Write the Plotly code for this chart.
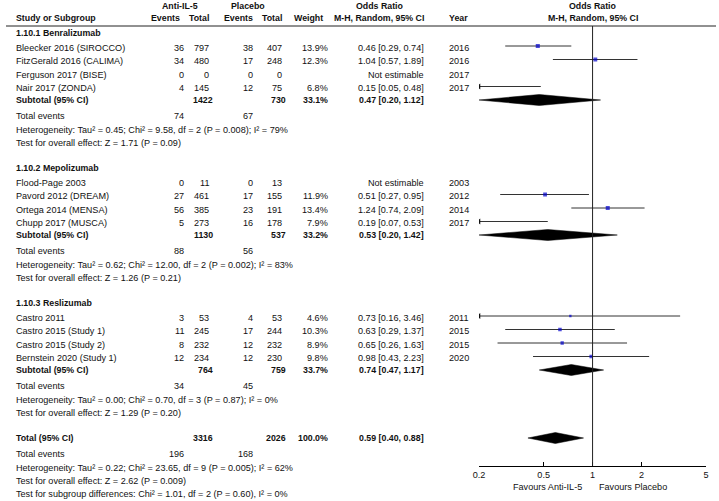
import numpy as np
import plotly.graph_objects as go

# --- data ---
groups = ["1.10.1 Benralizumab", "1.10.2 Mepolizumab", "1.10.3 Reslizumab"]
study = ["Bleecker 2016 (SIROCCO)", "FitzGerald 2016 (CALIMA)", "Ferguson 2017 (BISE)", "Nair 2017 (ZONDA)",
         "Flood-Page 2003", "Pavord 2012 (DREAM)", "Ortega 2014 (MENSA)", "Chupp 2017 (MUSCA)",
         "Castro 2011", "Castro 2015 (Study 1)", "Castro 2015 (Study 2)", "Bernstein 2020 (Study 1)"]
grp = [0, 0, 0, 0, 1, 1, 1, 1, 2, 2, 2, 2]
ev_t = [36, 34, 0, 4, 0, 27, 56, 5, 3, 11, 8, 12]
n_t = [797, 480, 0, 145, 11, 461, 385, 273, 53, 245, 232, 234]
ev_c = [38, 17, 0, 12, 0, 17, 23, 16, 4, 17, 12, 12]
n_c = [407, 248, 0, 75, 13, 155, 191, 178, 53, 244, 232, 230]
weight = [13.9, 12.3, None, 6.8, None, 11.9, 13.4, 7.9, 4.6, 10.3, 8.9, 9.8]
odds = [0.46, 1.04, None, 0.15, None, 0.51, 1.24, 0.19, 0.73, 0.63, 0.65, 0.98]
ci_lo = [0.29, 0.57, None, 0.05, None, 0.27, 0.74, 0.07, 0.16, 0.29, 0.26, 0.43]
ci_hi = [0.74, 1.89, None, 0.48, None, 0.95, 2.09, 0.53, 3.46, 1.37, 1.63, 2.23]
year = [2016, 2016, 2017, 2017, 2003, 2012, 2014, 2017, 2011, 2015, 2015, 2020]

sub_nt = [1422, 1130, 764]
sub_nc = [730, 537, 759]
sub_w = [33.1, 33.2, 33.7]
sub_or = [0.47, 0.53, 0.74]
sub_lo = [0.20, 0.20, 0.47]
sub_hi = [1.12, 1.42, 1.17]
sub_evt = [74, 88, 34]
sub_evc = [67, 56, 45]
sub_het = ["Heterogeneity: Tau² = 0.45; Chi² = 9.58, df = 2 (P = 0.008); I² = 79%",
           "Heterogeneity: Tau² = 0.62; Chi² = 12.00, df = 2 (P = 0.002); I² = 83%",
           "Heterogeneity: Tau² = 0.00; Chi² = 0.70, df = 3 (P = 0.87); I² = 0%"]
sub_z = ["Test for overall effect: Z = 1.71 (P = 0.09)",
         "Test for overall effect: Z = 1.26 (P = 0.21)",
         "Test for overall effect: Z = 1.29 (P = 0.20)"]

tot_nt, tot_nc, tot_w = 3316, 2026, 100.0
tot_or, tot_lo, tot_hi = 0.59, 0.40, 0.88
tot_evt, tot_evc = 196, 168
tot_het = "Heterogeneity: Tau² = 0.22; Chi² = 23.65, df = 9 (P = 0.005); I² = 62%"
tot_z = "Test for overall effect: Z = 2.62 (P = 0.009)"
tot_sub = "Test for subgroup differences: Chi² = 1.01, df = 2 (P = 0.60), I² = 0%"

ticks = [0.2, 0.5, 1, 2, 5]
tick_txt = ["0.2", "0.5", "1", "2", "5"]

# --- layout constants (pixels) ---
W, H = 719, 501
FONT = "Liberation Sans, Arial, sans-serif"
FS, FSB = 9.1, 8.8
X_NAME, X_EVT, X_NT, X_EVC, X_NC, X_W, X_OR, X_YR = 8, 182, 208, 252, 282, 328, 425, 447
AX_L, AX_R, AX_Y, TOP = 479, 709, 466, 26
BLUE = "#0000cc"

ann = []


def txt(x, y, s, anchor="left", bold=False):
    ann.append(dict(x=x, y=y, xref="x", yref="y", text=f"<b>{s}</b>" if bold else s,
                    showarrow=False, xanchor=anchor, yanchor="middle",
                    font=dict(family=FONT, size=FSB if bold else FS, color="#111")))


# headers
txt(176, 5.5, "Anti-IL-5", "center", True)
txt(245, 5.5, "Placebo", "center", True)
txt(379, 5.5, "Odds Ratio", "center", True)
txt(594, 5.5, "Odds Ratio", "center", True)
y2 = 18
txt(X_NAME, y2, "Study or Subgroup", bold=True)
txt(178, y2, "Events", "right", True)
txt(X_NT, y2, "Total", "right", True)
txt(X_EVC, y2, "Events", "right", True)
txt(X_NC, y2, "Total", "right", True)
txt(323, y2, "Weight", "right", True)
txt(X_OR, y2, "M-H, Random, 95% CI", "right", True)
txt(X_YR, y2, "Year", bold=True)
txt(594, y2, "M-H, Random, 95% CI", "center", True)

# row positions
study_y = [None] * len(study)
sub_y = []
y = 33
for g, name in enumerate(groups):
    txt(X_NAME, y, name, bold=True)
    y += 14.5
    for i in [k for k in range(len(study)) if grp[k] == g]:
        study_y[i] = y
        y += 13.5
    y -= 1.5
    sub_y.append(y)
    y += 16
    txt(X_NAME, y, "Total events")
    txt(X_EVT, y, str(sub_evt[g]), "right")
    txt(X_EVC, y, str(sub_evc[g]), "right")
    y += 13.5
    txt(X_NAME, y, sub_het[g])
    y += 13.5
    txt(X_NAME, y, sub_z[g])
    y += 25
tot_y = y
txt(X_NAME, tot_y, "Total (95% CI)", bold=True)
txt(X_NT + 4, tot_y, str(tot_nt), "right", True)
txt(X_NC + 4, tot_y, str(tot_nc), "right", True)
txt(X_W, tot_y, f"{tot_w:.1f}%", "right", True)
txt(X_OR, tot_y, f"{tot_or:.2f} [{tot_lo:.2f}, {tot_hi:.2f}]", "right", True)
txt(X_NAME, tot_y + 16, "Total events")
txt(X_EVT, tot_y + 16, str(tot_evt), "right")
txt(X_EVC, tot_y + 16, str(tot_evc), "right")
txt(X_NAME, tot_y + 29.5, tot_het)
txt(X_NAME, tot_y + 43, tot_z)
txt(X_NAME, tot_y + 56, tot_sub)

for i, s in enumerate(study):
    yy = study_y[i]
    txt(X_NAME, yy, s)
    txt(X_EVT, yy, str(ev_t[i]), "right")
    txt(X_NT, yy, str(n_t[i]), "right")
    txt(X_EVC, yy, str(ev_c[i]), "right")
    txt(X_NC, yy, str(n_c[i]), "right")
    if weight[i] is not None:
        txt(X_W, yy, f"{weight[i]:.1f}%", "right")
        txt(X_OR, yy, f"{odds[i]:.2f} [{ci_lo[i]:.2f}, {ci_hi[i]:.2f}]", "right")
    else:
        txt(X_OR, yy, "Not estimable", "right")
    txt(X_YR, yy, str(year[i]))

for g in range(len(groups)):
    yy = sub_y[g]
    txt(X_NAME, yy, "Subtotal (95% CI)", bold=True)
    txt(X_NT + 4, yy, str(sub_nt[g]), "right", True)
    txt(X_NC + 4, yy, str(sub_nc[g]), "right", True)
    txt(X_W, yy, f"{sub_w[g]:.1f}%", "right", True)
    txt(X_OR, yy, f"{sub_or[g]:.2f} [{sub_lo[g]:.2f}, {sub_hi[g]:.2f}]", "right", True)

txt(585, 487, "Favours Anti-IL-5", "right")
txt(598, 487, "Favours Placebo", "left")

# --- forest marks ---
fig = go.Figure()
xmin, xmax = ticks[0], ticks[-1]
lx, ly, arr_x, arr_y = [], [], [], []
sq_x, sq_y, sq_s = [], [], []
for i in range(len(study)):
    if odds[i] is None:
        continue
    yy = study_y[i] - 1.5
    lx += [max(ci_lo[i], xmin), min(ci_hi[i], xmax), None]
    ly += [yy, yy, None]
    if ci_lo[i] < xmin:
        arr_x.append(xmin)
        arr_y.append(yy)
    sq_x.append(odds[i])
    sq_y.append(yy)
    sq_s.append(1.1 * np.sqrt(weight[i]))

fig.add_trace(go.Scatter(x=lx, y=ly, mode="lines", line=dict(color="#333", width=1),
                         xaxis="x2", yaxis="y2", hoverinfo="skip"))
fig.add_trace(go.Scatter(x=arr_x, y=arr_y, mode="markers", xaxis="x2", yaxis="y2",
                         marker=dict(symbol="triangle-left", size=5, color="#111"), hoverinfo="skip"))
fig.add_trace(go.Scatter(x=sq_x, y=sq_y, mode="markers", xaxis="x2", yaxis="y2",
                         marker=dict(symbol="square", size=sq_s, color=BLUE, line=dict(width=0))))

dh = 5.5
for o, lo, hi, yy in list(zip(sub_or, sub_lo, sub_hi, sub_y)) + [(tot_or, tot_lo, tot_hi, tot_y)]:
    fig.add_trace(go.Scatter(x=[lo, o, hi, o, lo], y=[yy, yy - dh, yy, yy + dh, yy],
                             mode="lines", fill="toself", fillcolor="black",
                             line=dict(color="black", width=0.5), xaxis="x2", yaxis="y2",
                             hoverinfo="skip"))

eps = 1e-4
fig.update_layout(
    width=W, height=H, margin=dict(l=0, r=0, t=0, b=0),
    paper_bgcolor="white", plot_bgcolor="rgba(0,0,0,0)", showlegend=False,
    annotations=ann,
    xaxis=dict(range=[0, W], visible=False, domain=[0, 1]),
    yaxis=dict(range=[H, 0], visible=False, domain=[0, 1]),
    xaxis2=dict(type="log", range=[np.log10(xmin) - eps, np.log10(xmax) + eps],
                domain=[AX_L / W, AX_R / W], anchor="y2",
                showgrid=False, zeroline=False, showline=True, linecolor="black", linewidth=1,
                ticks="inside", ticklen=4, tickcolor="black",
                tickvals=ticks, ticktext=tick_txt,
                tickfont=dict(family=FONT, size=FS, color="#111")),
    yaxis2=dict(range=[AX_Y, 0], domain=[(H - AX_Y) / H, 1], visible=False, anchor="x2"),
    shapes=[
        dict(type="line", xref="x", yref="y", x0=0, x1=W, y0=TOP, y1=TOP,
             line=dict(color="#222", width=1)),
        dict(type="line", xref="x2", yref="y", x0=1, x1=1, y0=TOP, y1=AX_Y,
             line=dict(color="#222", width=1)),
    ],
)

# drop the browser's default body margin so the figure sits at the page corner
fig.write_html("out.html", config={"displayModeBar": False},
               post_script="document.body.style.margin='0';")
